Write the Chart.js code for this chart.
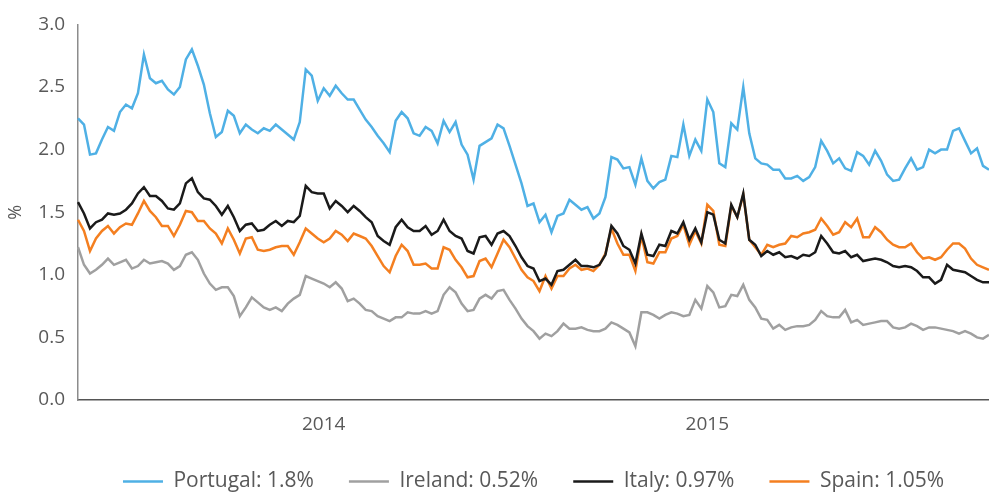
<!DOCTYPE html>
<html>
<head>
<meta charset="utf-8">
<script src="https://cdn.jsdelivr.net/npm/chart.js@4"></script>
<style>
  html, body { margin: 0; padding: 0; background: #fff; }
  #wrap { width: 989px; height: 494px; }
</style>
</head>
<body>
<div id="wrap"><canvas id="chartBonos"></canvas></div>
<script>
// year labels and the sample index where each one sits
const yearLabels = ['2014', '2015'];
const yearIndex = [41, 105];

const portugal = [
    2.25, 2.20, 1.96, 1.97, 2.08, 2.18, 2.15, 2.30, 2.36, 2.33, 2.45, 2.76, 2.57, 2.53, 2.55, 2.48, 2.44, 2.50, 2.72, 2.80, 2.67, 2.52, 2.29, 2.10, 2.14, 2.31,
    2.27, 2.13, 2.20, 2.16, 2.13, 2.17, 2.15, 2.20, 2.16, 2.12, 2.08, 2.22, 2.64, 2.59, 2.39, 2.49, 2.43, 2.51, 2.45, 2.40, 2.40, 2.32, 2.24, 2.18, 2.11,
    2.05, 1.98, 2.23, 2.30, 2.25, 2.13, 2.11, 2.18, 2.15, 2.05, 2.23, 2.14, 2.22, 2.04, 1.96, 1.76, 2.03, 2.06, 2.09, 2.20, 2.17, 2.03, 1.88, 1.73, 1.55,
    1.57, 1.42, 1.48, 1.34, 1.47, 1.49, 1.60, 1.56, 1.52, 1.54, 1.45, 1.49, 1.62, 1.94, 1.92, 1.85, 1.86, 1.72, 1.93, 1.75, 1.69, 1.74, 1.76, 1.95, 1.94, 2.20,
    1.95, 2.08, 1.99, 2.40, 2.30, 1.89, 1.86, 2.21, 2.16, 2.50, 2.13, 1.93, 1.89, 1.88, 1.84, 1.84, 1.77, 1.77, 1.79, 1.75, 1.78, 1.86, 2.07, 1.99, 1.89,
    1.93, 1.85, 1.83, 1.98, 1.95, 1.88, 1.99, 1.91, 1.80, 1.75, 1.76, 1.85, 1.93, 1.84, 1.86, 2.00, 1.97, 2.00, 2.00, 2.15, 2.17, 2.07, 1.97, 2.01, 1.87, 1.84
];

const ireland = [
    1.22, 1.08, 1.01, 1.04, 1.08, 1.13, 1.08, 1.10, 1.12, 1.05, 1.07, 1.12, 1.09, 1.10, 1.11, 1.09, 1.04, 1.07, 1.16, 1.18, 1.12, 1.01, 0.93, 0.88, 0.90, 0.90,
    0.83, 0.67, 0.74, 0.82, 0.78, 0.74, 0.72, 0.74, 0.71, 0.77, 0.81, 0.84, 0.99, 0.97, 0.95, 0.93, 0.90, 0.94, 0.89, 0.79, 0.81, 0.77, 0.72, 0.71, 0.67,
    0.65, 0.63, 0.66, 0.66, 0.70, 0.69, 0.69, 0.71, 0.69, 0.71, 0.84, 0.90, 0.86, 0.77, 0.71, 0.72, 0.81, 0.84, 0.81, 0.87, 0.88, 0.80, 0.73, 0.65, 0.59,
    0.55, 0.49, 0.53, 0.51, 0.55, 0.61, 0.57, 0.57, 0.58, 0.56, 0.55, 0.55, 0.57, 0.62, 0.60, 0.57, 0.54, 0.43, 0.70, 0.70, 0.68, 0.65, 0.68, 0.70, 0.69, 0.67,
    0.68, 0.80, 0.73, 0.91, 0.86, 0.74, 0.75, 0.84, 0.83, 0.92, 0.80, 0.74, 0.65, 0.64, 0.57, 0.60, 0.56, 0.58, 0.59, 0.59, 0.60, 0.64, 0.71, 0.67, 0.66,
    0.66, 0.72, 0.62, 0.64, 0.60, 0.61, 0.62, 0.63, 0.63, 0.58, 0.57, 0.58, 0.61, 0.59, 0.56, 0.58, 0.58, 0.57, 0.56, 0.55, 0.53, 0.55, 0.53, 0.50, 0.49, 0.52
];

const italy = [
    1.58, 1.49, 1.37, 1.42, 1.44, 1.49, 1.48, 1.49, 1.52, 1.57, 1.65, 1.70, 1.63, 1.63, 1.59, 1.53, 1.52, 1.57, 1.73, 1.77, 1.66, 1.61, 1.60, 1.55, 1.48, 1.55,
    1.46, 1.35, 1.40, 1.41, 1.35, 1.36, 1.40, 1.43, 1.39, 1.43, 1.42, 1.47, 1.71, 1.66, 1.65, 1.65, 1.53, 1.59, 1.55, 1.50, 1.55, 1.51, 1.46, 1.42, 1.31,
    1.27, 1.24, 1.38, 1.44, 1.38, 1.35, 1.35, 1.39, 1.32, 1.35, 1.44, 1.35, 1.31, 1.29, 1.19, 1.17, 1.30, 1.31, 1.24, 1.33, 1.35, 1.31, 1.23, 1.14, 1.07,
    1.05, 0.95, 0.97, 0.92, 1.03, 1.04, 1.08, 1.12, 1.07, 1.07, 1.06, 1.08, 1.16, 1.39, 1.33, 1.23, 1.20, 1.09, 1.33, 1.16, 1.15, 1.24, 1.23, 1.35, 1.33, 1.42,
    1.28, 1.37, 1.26, 1.50, 1.48, 1.28, 1.25, 1.56, 1.46, 1.65, 1.28, 1.24, 1.15, 1.19, 1.16, 1.18, 1.14, 1.15, 1.13, 1.16, 1.15, 1.18, 1.31, 1.25, 1.18,
    1.17, 1.19, 1.14, 1.16, 1.11, 1.12, 1.13, 1.12, 1.10, 1.07, 1.06, 1.07, 1.06, 1.03, 0.98, 0.98, 0.93, 0.96, 1.08, 1.04, 1.03, 1.02, 0.99, 0.96, 0.94, 0.94
];

const spain = [
    1.44, 1.35, 1.19, 1.29, 1.35, 1.39, 1.33, 1.38, 1.41, 1.40, 1.49, 1.59, 1.51, 1.46, 1.39, 1.39, 1.31, 1.40, 1.51, 1.50, 1.43, 1.43, 1.37, 1.33, 1.25, 1.37,
    1.28, 1.17, 1.29, 1.30, 1.20, 1.19, 1.20, 1.22, 1.23, 1.23, 1.16, 1.26, 1.37, 1.33, 1.29, 1.26, 1.29, 1.35, 1.32, 1.27, 1.33, 1.31, 1.29, 1.23, 1.15,
    1.07, 1.02, 1.15, 1.24, 1.19, 1.08, 1.08, 1.09, 1.05, 1.05, 1.22, 1.20, 1.12, 1.06, 0.98, 0.99, 1.11, 1.13, 1.06, 1.17, 1.28, 1.22, 1.13, 1.04, 0.98,
    0.95, 0.87, 0.99, 0.89, 0.99, 0.99, 1.05, 1.08, 1.04, 1.05, 1.03, 1.08, 1.17, 1.37, 1.25, 1.16, 1.16, 1.03, 1.31, 1.10, 1.09, 1.18, 1.18, 1.29, 1.31, 1.40,
    1.24, 1.35, 1.25, 1.56, 1.51, 1.24, 1.23, 1.55, 1.46, 1.64, 1.28, 1.22, 1.16, 1.24, 1.22, 1.24, 1.25, 1.31, 1.30, 1.33, 1.34, 1.36, 1.45, 1.39, 1.32,
    1.34, 1.42, 1.38, 1.45, 1.30, 1.30, 1.38, 1.34, 1.28, 1.24, 1.22, 1.22, 1.25, 1.18, 1.13, 1.14, 1.12, 1.14, 1.20, 1.25, 1.25, 1.21, 1.13, 1.08, 1.06, 1.04
];

const seriesNames = ['Portugal: 1.8%', 'Ireland: 0.52%', 'Italy: 0.97%', 'Spain: 1.05%'];
const seriesColors = ['#4fb0e5', '#a0a0a0', '#1a1a1a', '#f47f20'];

// one label per sample, only the year positions carry text
const labels = portugal.map(() => '');
yearIndex.forEach((idx, i) => { labels[idx] = yearLabels[i]; });

const fuente = "'Open Sans', 'DejaVu Sans', sans-serif";
const grisTexto = '#595959';

const crearDataset = (nombre, datos, color) => ({
    label: nombre,
    data: datos,
    borderColor: color,
    backgroundColor: color,
    borderWidth: 2.5,
    pointRadius: 0,
    tension: 0
});

const ctx = document.getElementById('chartBonos').getContext('2d');

const chartBonos = new Chart(ctx, {
    type: 'line',
    data: {
        labels: labels,
        datasets: [
            crearDataset(seriesNames[0], portugal, seriesColors[0]),
            crearDataset(seriesNames[1], ireland, seriesColors[1]),
            crearDataset(seriesNames[2], italy, seriesColors[2]),
            crearDataset(seriesNames[3], spain, seriesColors[3])
        ]
    },
    options: {
        responsive: true,
        maintainAspectRatio: false,
        animation: false,
        layout: {
            padding: { top: 19, right: 0, bottom: -8, left: 0 }
        },
        plugins: {
            tooltip: { enabled: false },
            legend: {
                position: 'bottom',
                fullSize: false,
                labels: {
                    usePointStyle: true,
                    pointStyle: 'line',
                    pointStyleWidth: 40,
                    padding: 35,
                    color: grisTexto,
                    font: { family: fuente, size: 21 }
                }
            }
        },
        scales: {
            x: {
                type: 'category',
                grid: { display: false, drawTicks: false },
                border: { display: true, color: '#555555', width: 1.5 },
                ticks: {
                    autoSkip: false,
                    maxRotation: 0,
                    // padding would also pad the right edge, so the gap comes from lineHeight
                    padding: 0,
                    color: grisTexto,
                    font: { family: fuente, size: 19, lineHeight: '50px' }
                },
                afterFit: (scale) => { scale.height = 36; }
            },
            y: {
                min: 0,
                max: 3,
                grid: { display: false, drawTicks: false },
                border: { display: true, color: '#8c8c8c', width: 1.5 },
                ticks: {
                    stepSize: 0.5,
                    padding: 13,
                    color: grisTexto,
                    font: { family: fuente, size: 19 },
                    callback: (valor) => valor.toFixed(1)
                },
                title: {
                    display: true,
                    text: '%',
                    color: grisTexto,
                    padding: { top: 5, bottom: 0 },
                    font: { family: fuente, size: 18 }
                },
                afterFit: (scale) => { scale.width = 78; }
            }
        }
    }
});
</script>
</body>
</html>
